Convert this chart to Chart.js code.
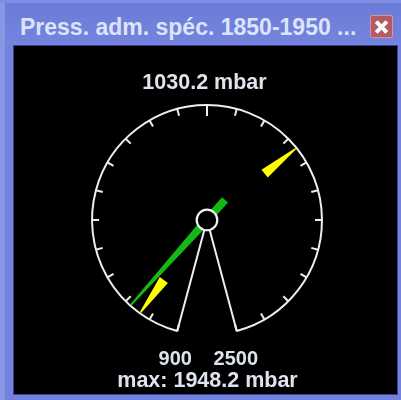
<!DOCTYPE html>
<html>
<head>
<meta charset="utf-8">
<script src="https://cdn.jsdelivr.net/npm/chart.js@4.4.0/dist/chart.umd.min.js"></script>
<style>
  html, body { margin: 0; padding: 0; background: #7382dc; }
  #frame { position: relative; width: 401px; height: 400px; overflow: hidden;
           background: linear-gradient(#6a7bd7, #7584de 46px, #7382dc 46px); }
  #edgeL { position: absolute; left: 0; top: 0; width: 5px; height: 400px; background: #8797e4; }
  #edgeT { position: absolute; left: 0; top: 0; width: 401px; height: 3px; background: #7c8de2; }
  #title { position: absolute; left: 20px; top: 14px; line-height: 26px; white-space: nowrap;
           font: bold 23px "Liberation Sans", Arial, sans-serif; color: #dbe4fa; }
  #close { position: absolute; left: 370px; top: 15px; width: 21px; height: 21px;
           background: #b35a62; border: 1px solid #d5959b; border-radius: 2px; }
  #close i { position: absolute; left: 3px; top: 8.5px; width: 15px; height: 4px; background: #fff; }
  #close i:first-child { transform: rotate(45deg); }
  #close i:last-child { transform: rotate(-45deg); }
  #panel { position: absolute; left: 14px; top: 46px; width: 383px; height: 348px; background: #000;
           box-shadow: 0 0 0 1px #3a4396; }
  canvas { display: block; }
</style>
</head>
<body>
<div id="frame">
  <div id="edgeL"></div>
  <div id="edgeT"></div>
  <div id="title">Press. adm. spéc. 1850-1950 ...</div>
  <div id="close"><i></i><i></i></div>
  <div id="panel"><canvas id="gauge" width="383" height="348"></canvas></div>
</div>
<script>
// échelle du cadran
var scaleBounds = [900, 2500];
var scaleLabels = ['900', '2500'];
var tickDivisions = 22;
var unit = 'mbar';

// valeurs
var currentPressure = [1030.2];
var minMaxPressure = [1000.4, 1948.2]; // min, max

var textColor = '#dfe3eb';

function polar(cx, cy, a, r) {
  return [cx + Math.cos(a) * r, cy + Math.sin(a) * r];
}

// dessine un triangle / aiguille le long d'un angle
function needle(ctx, cx, cy, a, rFrom, wFrom, rTo, wTo, rTail, color) {
  var n = a + Math.PI / 2;
  var pts = [];
  var tip = polar(cx, cy, a, rFrom);
  pts.push([tip[0] + Math.cos(n) * wFrom, tip[1] + Math.sin(n) * wFrom]);
  pts.push([tip[0] - Math.cos(n) * wFrom, tip[1] - Math.sin(n) * wFrom]);
  var base = polar(cx, cy, a, rTo);
  pts.push([base[0] - Math.cos(n) * wTo, base[1] - Math.sin(n) * wTo]);
  if (rTail !== null) {
    var tail = polar(cx, cy, a, rTail);
    pts.push([tail[0] - Math.cos(n) * wTo, tail[1] - Math.sin(n) * wTo]);
    pts.push([tail[0] + Math.cos(n) * wTo, tail[1] + Math.sin(n) * wTo]);
  }
  pts.push([base[0] + Math.cos(n) * wTo, base[1] + Math.sin(n) * wTo]);
  ctx.beginPath();
  ctx.moveTo(pts[0][0], pts[0][1]);
  for (var i = 1; i < pts.length; i++) ctx.lineTo(pts[i][0], pts[i][1]);
  ctx.closePath();
  ctx.fillStyle = color;
  ctx.fill();
}

var gaugePlugin = {
  id: 'gauge',
  afterDatasetsDraw: function (chart) {
    var ctx = chart.ctx;
    var arc = chart.getDatasetMeta(0).data[0];
    var p = arc.getProps(['x', 'y', 'startAngle', 'endAngle', 'outerRadius'], true);
    var cx = p.x, cy = p.y, R = p.outerRadius;
    var lo = scaleBounds[0], hi = scaleBounds[1];
    var toAngle = function (v) {
      return p.startAngle + (v - lo) / (hi - lo) * (p.endAngle - p.startAngle);
    };

    ctx.save();
    // graduations
    ctx.strokeStyle = '#eeeeee';
    ctx.lineWidth = 2;
    for (var i = 0; i <= tickDivisions; i++) {
      var a = toAngle(lo + i * (hi - lo) / tickDivisions);
      var len = (i === tickDivisions / 2) ? 11 : 7;
      var p1 = polar(cx, cy, a, R), p2 = polar(cx, cy, a, R - len);
      ctx.beginPath();
      ctx.moveTo(p1[0], p1[1]);
      ctx.lineTo(p2[0], p2[1]);
      ctx.stroke();
    }

    // repères min / max (jaune)
    minMaxPressure.forEach(function (v) {
      needle(ctx, cx, cy, toAngle(v), R - 1, 0.7, R - 41, 5, null, '#ffff00');
    });

    // aiguille (vert)
    needle(ctx, cx, cy, toAngle(currentPressure[0]), R - 1, 1, 10, 4, -27, '#14b814');

    // moyeu
    ctx.beginPath();
    ctx.arc(cx, cy, 10.3, 0, Math.PI * 2);
    ctx.fillStyle = '#000';
    ctx.fill();
    ctx.lineWidth = 2.2;
    ctx.strokeStyle = '#f2f2f2';
    ctx.stroke();

    // textes
    ctx.fillStyle = textColor;
    ctx.textAlign = 'center';
    ctx.textBaseline = 'alphabetic';
    ctx.font = 'bold 21.5px "Liberation Sans", Arial, sans-serif';
    ctx.fillText(currentPressure[0].toFixed(1) + ' ' + unit, chart.width / 2 - 1, cy - R - 16);
    ctx.font = 'bold 20px "Liberation Sans", Arial, sans-serif';
    var e0 = polar(cx, cy, p.startAngle, R), e1 = polar(cx, cy, p.endAngle, R);
    ctx.fillText(scaleLabels[0], e0[0] - 2, cy + R + 30);
    ctx.fillText(scaleLabels[1], e1[0] - 1, cy + R + 30);
    ctx.font = 'bold 21.5px "Liberation Sans", Arial, sans-serif';
    ctx.fillText('max: ' + minMaxPressure[1].toFixed(1) + ' ' + unit, chart.width / 2 + 2, cy + R + 52);
    ctx.restore();
  }
};

var ctxGauge = document.getElementById('gauge').getContext('2d');

var gaugeChart = new Chart(ctxGauge, {
  type: 'pie',
  data: {
    labels: ['Pression'],
    datasets: [{
      data: [scaleBounds[1] - scaleBounds[0]],
      backgroundColor: 'rgba(0,0,0,0)',
      borderColor: '#eeeeee',
      borderWidth: 2
    }]
  },
  options: {
    responsive: false,
    animation: false,
    events: [],
    rotation: -165,
    circumference: 330,
    layout: { padding: { left: 77, right: 74, top: 58, bottom: 62 } },
    plugins: {
      legend: { display: false },
      tooltip: { enabled: false }
    }
  },
  plugins: [gaugePlugin]
});
</script>
</body>
</html>
